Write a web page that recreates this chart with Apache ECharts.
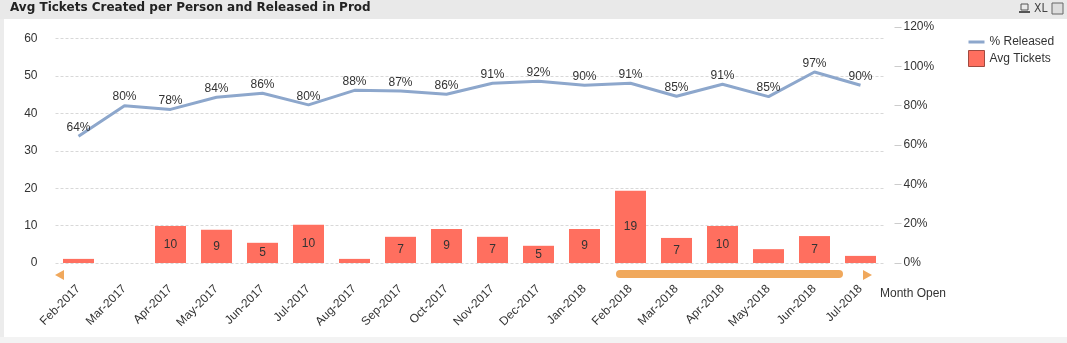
<!DOCTYPE html>
<html><head><meta charset="utf-8">
<script src="https://cdn.jsdelivr.net/npm/echarts@6/dist/echarts.min.js"></script>
<style>html,body{margin:0;padding:0;background:#fff}#c{width:1067px;height:343px}</style>
</head><body><div id="c"></div>
<script>
const months = ['Feb-2017','Mar-2017','Apr-2017','May-2017','Jun-2017','Jul-2017','Aug-2017','Sep-2017','Oct-2017','Nov-2017','Dec-2017','Jan-2018','Feb-2018','Mar-2018','Apr-2018','May-2018','Jun-2018','Jul-2018'];
const avgTickets = [1.1,0,9.9,8.9,5.4,10.2,1.1,7.0,9.1,7.0,4.6,9.1,19.3,6.7,9.9,3.7,7.2,1.9];
const pctReleased = [0.644,0.800,0.781,0.843,0.863,0.804,0.878,0.874,0.858,0.914,0.924,0.904,0.914,0.848,0.909,0.846,0.971,0.904];
const leftTicks = [0,10,20,30,40,50,60];
const rightTicks = ['0%','20%','40%','60%','80%','100%','120%'];

const chart = echarts.init(document.getElementById('c'), null, {renderer:'canvas'});
const F = 'Arial, "Liberation Sans", sans-serif';
const LINE = '#8da7cc';
const barData = avgTickets.map(v => ({value: v, label: {show: v >= 4.5}}));
chart.setOption({
  animation: false,
  textStyle: {fontFamily: F},
  grid: {left: 55.5, right: 1067 - 883.5, top: 27, bottom: 343 - 263},
  legend: {
    orient: 'vertical', left: 963, top: 31, itemGap: 2, itemWidth: 16, itemHeight: 16,
    textStyle: {fontFamily: F, fontSize: 12, color: '#333'},
    data: [
      {name: '% Released', icon: 'path://M0,6.5L16,6.5L16,9.5L0,9.5Z', itemStyle: {color: LINE, opacity: 1}},
      {name: 'Avg Tickets', icon: 'rect', itemStyle: {borderColor: '#a04a40', borderWidth: 1}}
    ]
  },
  xAxis: {
    type: 'category', data: months,
    axisLine: {show: false}, axisTick: {show: false},
    axisLabel: {rotate: 45, margin: 24, fontFamily: F, fontSize: 12, color: '#333', interval: 0}
  },
  yAxis: [
    {
      type: 'value', min: 0, max: 63.1, interval: 10, position: 'left',
      axisLine: {show: false}, axisTick: {show: false},
      axisLabel: {showMaxLabel: false, margin: 18, fontFamily: F, fontSize: 12, color: '#333',
        formatter: v => (v % 10 === 0 ? String(v) : '')},
      splitLine: {show: true, showMaxLine: false, lineStyle: {type: [3,2], color: '#d8d8d8'}}
    },
    {
      type: 'value', min: 0, max: 1.2, interval: 0.2, position: 'right', offset: 18,
      axisLine: {show: false},
      axisTick: {show: true, inside: true, length: 7, lineStyle: {color: '#ccc'}},
      axisLabel: {margin: 2, fontFamily: F, fontSize: 12, color: '#333',
        formatter: v => rightTicks[Math.round(v / 0.2)]},
      splitLine: {show: false}
    }
  ],
  series: [
    {
      name: 'Avg Tickets', type: 'bar', yAxisIndex: 0, data: barData, barWidth: 31,
      itemStyle: {color: '#ff6f5f'},
      label: {position: 'inside', color: '#333', fontFamily: F, fontSize: 12,
        formatter: p => Math.round(p.value)}
    },
    {
      name: '% Released', type: 'line', yAxisIndex: 1, data: pctReleased,
      symbol: 'circle', symbolSize: 1, showSymbol: true,
      lineStyle: {color: LINE, width: 3},
      itemStyle: {color: 'rgba(0,0,0,0)'},
      label: {show: true, position: 'top', distance: 2, color: '#333', fontFamily: F, fontSize: 12,
        formatter: p => Math.round(p.value * 100) + '%'},
      z: 3
    }
  ],
  graphic: [
    {type: 'rect', shape: {x: 0, y: 0, width: 1067, height: 19}, style: {fill: '#e9e9e9'}, silent: true},
    {type: 'rect', shape: {x: 0, y: 19, width: 4, height: 324}, style: {fill: '#ececec'}, silent: true},
    {type: 'rect', shape: {x: 0, y: 337, width: 1067, height: 6}, style: {fill: '#f3f3f3'}, silent: true},
    {type: 'text', left: 10, top: 2, style: {text: 'Avg Tickets Created per Person and Released in Prod',
      font: 'bold 12px "DejaVu Sans", Tahoma, sans-serif', fill: '#222'}},
    {type: 'text', left: 1034, top: 3, style: {text: 'XL', font: '12px "DejaVu Sans Condensed", sans-serif', fill: '#444'}},
    {type: 'rect', shape: {x: 1021, y: 4, width: 7, height: 6}, style: {fill: 'none', stroke: '#555', lineWidth: 1}},
    {type: 'rect', shape: {x: 1019, y: 11, width: 11, height: 2}, style: {fill: '#555'}},
    {type: 'rect', shape: {x: 1052, y: 3, width: 11, height: 11}, style: {fill: '#ddd', stroke: '#666', lineWidth: 1}},
    {type: 'polygon', shape: {points: [[64,270],[64,280],[55,275]]}, style: {fill: '#f0a85c'}},
    {type: 'polygon', shape: {points: [[863,270],[863,280],[872,275]]}, style: {fill: '#f0a85c'}},
    {type: 'rect', shape: {x: 616, y: 270, width: 227, height: 8, r: 4}, style: {fill: '#f0a85c'}},
    {type: 'text', left: 880, top: 288, style: {text: 'Month Open', font: '12px Arial, "Liberation Sans", sans-serif', fill: '#333'}}
  ]
});
</script></body></html>
